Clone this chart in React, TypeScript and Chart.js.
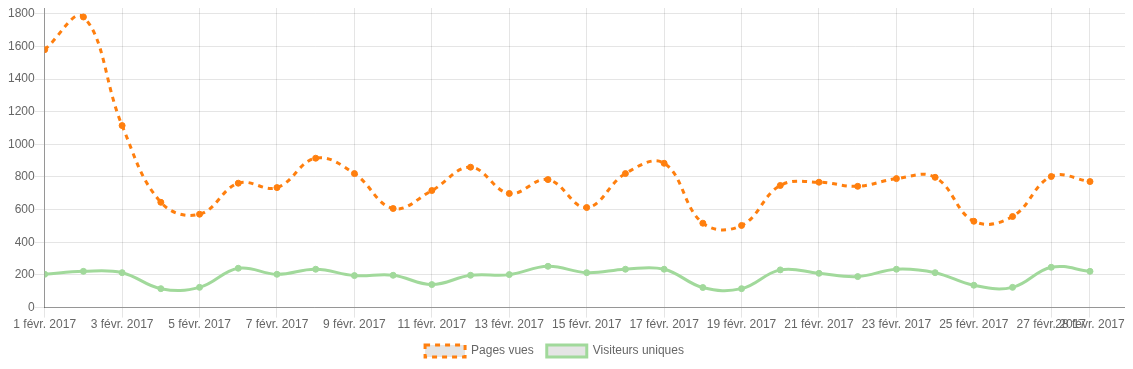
import React, { useEffect, useRef } from "react";
import { Chart, registerables } from "chart.js";

Chart.register(...registerables);

const dayLabels: string[] = [
  "1 févr. 2017", "2 févr. 2017", "3 févr. 2017", "4 févr. 2017", "5 févr. 2017",
  "6 févr. 2017", "7 févr. 2017", "8 févr. 2017", "9 févr. 2017", "10 févr. 2017",
  "11 févr. 2017", "12 févr. 2017", "13 févr. 2017", "14 févr. 2017", "15 févr. 2017",
  "16 févr. 2017", "17 févr. 2017", "18 févr. 2017", "19 févr. 2017", "20 févr. 2017",
  "21 févr. 2017", "22 févr. 2017", "23 févr. 2017", "24 févr. 2017", "25 févr. 2017",
  "26 févr. 2017", "27 févr. 2017", "28 févr. 2017",
];

const pagesVues: number[] = [
  1580, 1780, 1115, 645, 572, 762, 735, 915, 821, 607,
  717, 860, 699, 784, 613, 821, 884, 517, 503, 748,
  768, 743, 790, 798, 529, 558, 803, 772,
];

const visiteursUniques: number[] = [
  204, 222, 214, 116, 124, 241, 204, 235, 196, 198,
  141, 198, 202, 253, 214, 235, 235, 123, 116, 231,
  210, 190, 235, 214, 137, 124, 247, 222,
];

const xTickDays: number[] = [1, 3, 5, 7, 9, 11, 13, 15, 17, 19, 21, 23, 25, 27, 28];
const yTickValues: number[] = [0, 200, 400, 600, 800, 1000, 1200, 1400, 1600, 1800];

const FONT = "'Helvetica Neue', Helvetica, Arial, 'Liberation Sans', sans-serif";
const ORANGE = "#ff7f0e";
const GREEN = "#a1d99b";

const legendShift = {
  id: "legendShift",
  afterLayout(chart: any) {
    if (chart.legend) {
      chart.legend.left -= 15;
      chart.legend.right -= 15;
    }
  },
};

export default function App() {
  const ref = useRef<HTMLCanvasElement | null>(null);

  useEffect(() => {
    if (!ref.current) return;
    const chart = new Chart(ref.current, {
      type: "line",
      plugins: [legendShift],
      data: {
        datasets: [
          {
            label: "Pages vues",
            data: pagesVues.map((v, i) => ({ x: i + 1, y: v })),
            borderColor: ORANGE,
            backgroundColor: "rgba(0,0,0,0.1)",
            pointBackgroundColor: ORANGE,
            pointBorderColor: ORANGE,
            borderWidth: 3,
            borderDash: [5, 5],
            pointRadius: 3,
            pointBorderWidth: 1,
            tension: 0.4,
            fill: false,
          },
          {
            label: "Visiteurs uniques",
            data: visiteursUniques.map((v, i) => ({ x: i + 1, y: v })),
            borderColor: GREEN,
            backgroundColor: "rgba(0,0,0,0.1)",
            pointBackgroundColor: GREEN,
            pointBorderColor: GREEN,
            borderWidth: 3,
            pointRadius: 3,
            pointBorderWidth: 1,
            tension: 0.4,
            fill: false,
          },
        ],
      },
      options: {
        animation: false,
        responsive: true,
        maintainAspectRatio: false,
        layout: { padding: 0 },
        plugins: {
          legend: {
            position: "bottom",
            labels: {
              boxWidth: 40,
              boxHeight: 12,
              padding: 13,
              color: "#666",
              font: { family: FONT, size: 12 },
            },
          },
          tooltip: { enabled: false },
        },
        scales: {
          x: {
            type: "linear",
            min: 1,
            max: 28.93,
            afterBuildTicks: (scale: any) => {
              scale.ticks = xTickDays.map((d) => ({ value: d }));
            },
            afterFit: (scale: any) => {
              scale.paddingRight = 0;
              scale.paddingLeft = 0;
            },
            ticks: {
              autoSkip: false,
              maxRotation: 0,
              minRotation: 0,
              padding: 0,
              color: "#666",
              font: { family: FONT, size: 12 },
              callback: (value: any) => dayLabels[Number(value) - 1] ?? "",
            },
            grid: { color: "rgba(0,0,0,0.1)", tickLength: 10 },
            border: { color: "rgba(0,0,0,0.35)" },
          },
          y: {
            min: 0,
            max: 1840,
            afterBuildTicks: (scale: any) => {
              scale.ticks = yTickValues.map((v) => ({ value: v }));
            },
            ticks: {
              padding: 0,
              color: "#666",
              font: { family: FONT, size: 12 },
              callback: (value: any) => String(value),
            },
            grid: { color: "rgba(0,0,0,0.1)", tickLength: 10 },
            border: { color: "rgba(0,0,0,0.35)" },
          },
        },
      },
    });
    return () => chart.destroy();
  }, []);

  return (
    <div style={{ position: "relative", width: 1117, height: 353 }}>
      <div style={{ position: "absolute", top: -8, left: 0, width: 1123, height: 367 }}>
        <canvas ref={ref} />
      </div>
    </div>
  );
}
